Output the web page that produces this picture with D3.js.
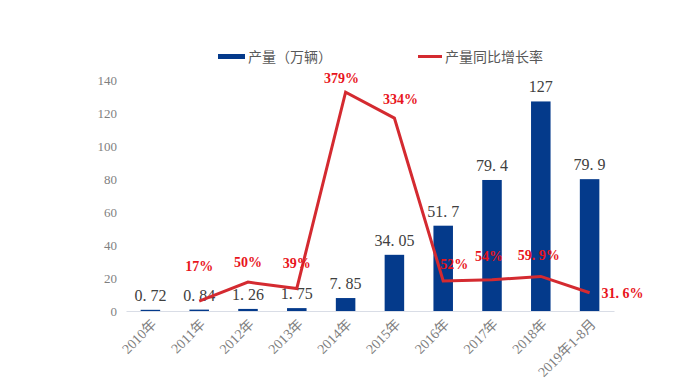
<!DOCTYPE html>
<html><head><meta charset="utf-8">
<script src="https://cdn.jsdelivr.net/npm/d3@7"></script>
<style>body{margin:0;background:#fff}svg{display:block}</style>
</head><body>
<svg id="c" width="692" height="392"></svg>
<script>
const categories = ["2010年","2011年","2012年","2013年","2014年","2015年","2016年","2017年","2018年","2019年1-8月"];
const production = [0.72,0.84,1.26,1.75,7.85,34.05,51.7,79.4,127,79.9];
const productionLabels = ["0. 72","0. 84","1. 26","1. 75","7. 85","34. 05","51. 7","79. 4","127","79. 9"];
const growth = [null,17,50,39,379,334,52,54,59.9,31.6];
const growthLabels = [null,"17%","50%","39%","379%","334%","52%","54%","59. 9%","31. 6%"];
const yTicks = [0,20,40,60,80,100,120,140];

const svg = d3.select("#c");
const x = d3.scaleBand().domain(categories).range([126,614]).paddingInner(0.6).paddingOuter(0.3);
const y = d3.scaleLinear().domain([0,140]).range([311,80]);
const y2 = d3.scaleLinear().domain([0,400]).range([311,80]);
const blue = "#043a8b", red = "#d42a30";
const serif = "'Liberation Serif','Noto Sans CJK SC',serif";

// y axis labels
const ya = svg.append("g").attr("transform","translate(117,0)")
  .call(d3.axisLeft(y).tickValues(yTicks).tickSize(0).tickPadding(0));
ya.select(".domain").remove();
ya.selectAll("text").attr("fill","#7f7f7f").style("font-family",serif).style("font-size","13px");

// bars
svg.selectAll("rect.bar").data(categories).join("rect").attr("class","bar")
  .attr("x",d=>x(d)).attr("width",x.bandwidth())
  .attr("y",(d,i)=>y(production[i])).attr("height",(d,i)=>y(0)-y(production[i]))
  .attr("fill",blue);

// x axis
const xa = svg.append("g").attr("transform","translate(0,311)")
  .call(d3.axisBottom(x).tickSize(0).tickPadding(0));
xa.select(".domain").attr("stroke","#d9dde6").attr("stroke-width",1.2);
xa.selectAll("text").attr("fill","#7f7f7f").style("font-family",serif).style("font-size","14px")
  .attr("text-anchor","end").attr("dy",0).attr("y",0)
  .attr("transform","translate(7,14) rotate(-45)");

// bar labels
svg.selectAll("text.bl").data(categories).join("text").attr("class","bl")
  .attr("x",d=>x(d)+x.bandwidth()/2).attr("y",(d,i)=>y(production[i])-9)
  .attr("text-anchor","middle").attr("fill","#404040")
  .style("font-family",serif).style("font-size","16px")
  .text((d,i)=>productionLabels[i]);

// line
const pts = categories.map((c,i)=>({c,v:growth[i],l:growthLabels[i]})).filter(d=>d.v!==null);
const line = d3.line().x(d=>x(d.c)+x.bandwidth()/2).y(d=>y2(d.v));
svg.append("path").datum(pts).attr("d",line).attr("fill","none")
  .attr("stroke",red).attr("stroke-width",3).attr("stroke-linejoin","miter");

// growth labels
const off = {"17%":[0,-35],"50%":[0,-20],"39%":[0,-25],"379%":[-4,-14],"334%":[6,-19],"52%":[11,-17],"54%":[-3,-24],"59. 9%":[-2,-21],"31. 6%":[12,0]};
svg.selectAll("text.gl").data(pts).join("text").attr("class","gl")
  .attr("x",d=>x(d.c)+x.bandwidth()/2+off[d.l][0])
  .attr("y",d=>y2(d.v)+off[d.l][1]+5)
  .attr("text-anchor",d=>d.l==="31. 6%"?"start":"middle")
  .attr("fill","#e8141c").style("font-family",serif).style("font-size","14px").style("font-weight","bold")
  .text(d=>d.l);

// legend
const lg = svg.append("g");
lg.append("rect").attr("x",218).attr("y",54).attr("width",27).attr("height",5).attr("fill",blue);
lg.append("text").attr("x",248).attr("y",62).text("产量（万辆）")
  .attr("fill","#595959").style("font-family","'Noto Sans CJK SC',sans-serif").style("font-size","14px");
lg.append("line").attr("x1",418).attr("x2",442).attr("y1",56.5).attr("y2",56.5).attr("stroke",red).attr("stroke-width",3);
lg.append("text").attr("x",445).attr("y",62).text("产量同比增长率")
  .attr("fill","#595959").style("font-family","'Noto Sans CJK SC',sans-serif").style("font-size","14px");
</script>
</body></html>
